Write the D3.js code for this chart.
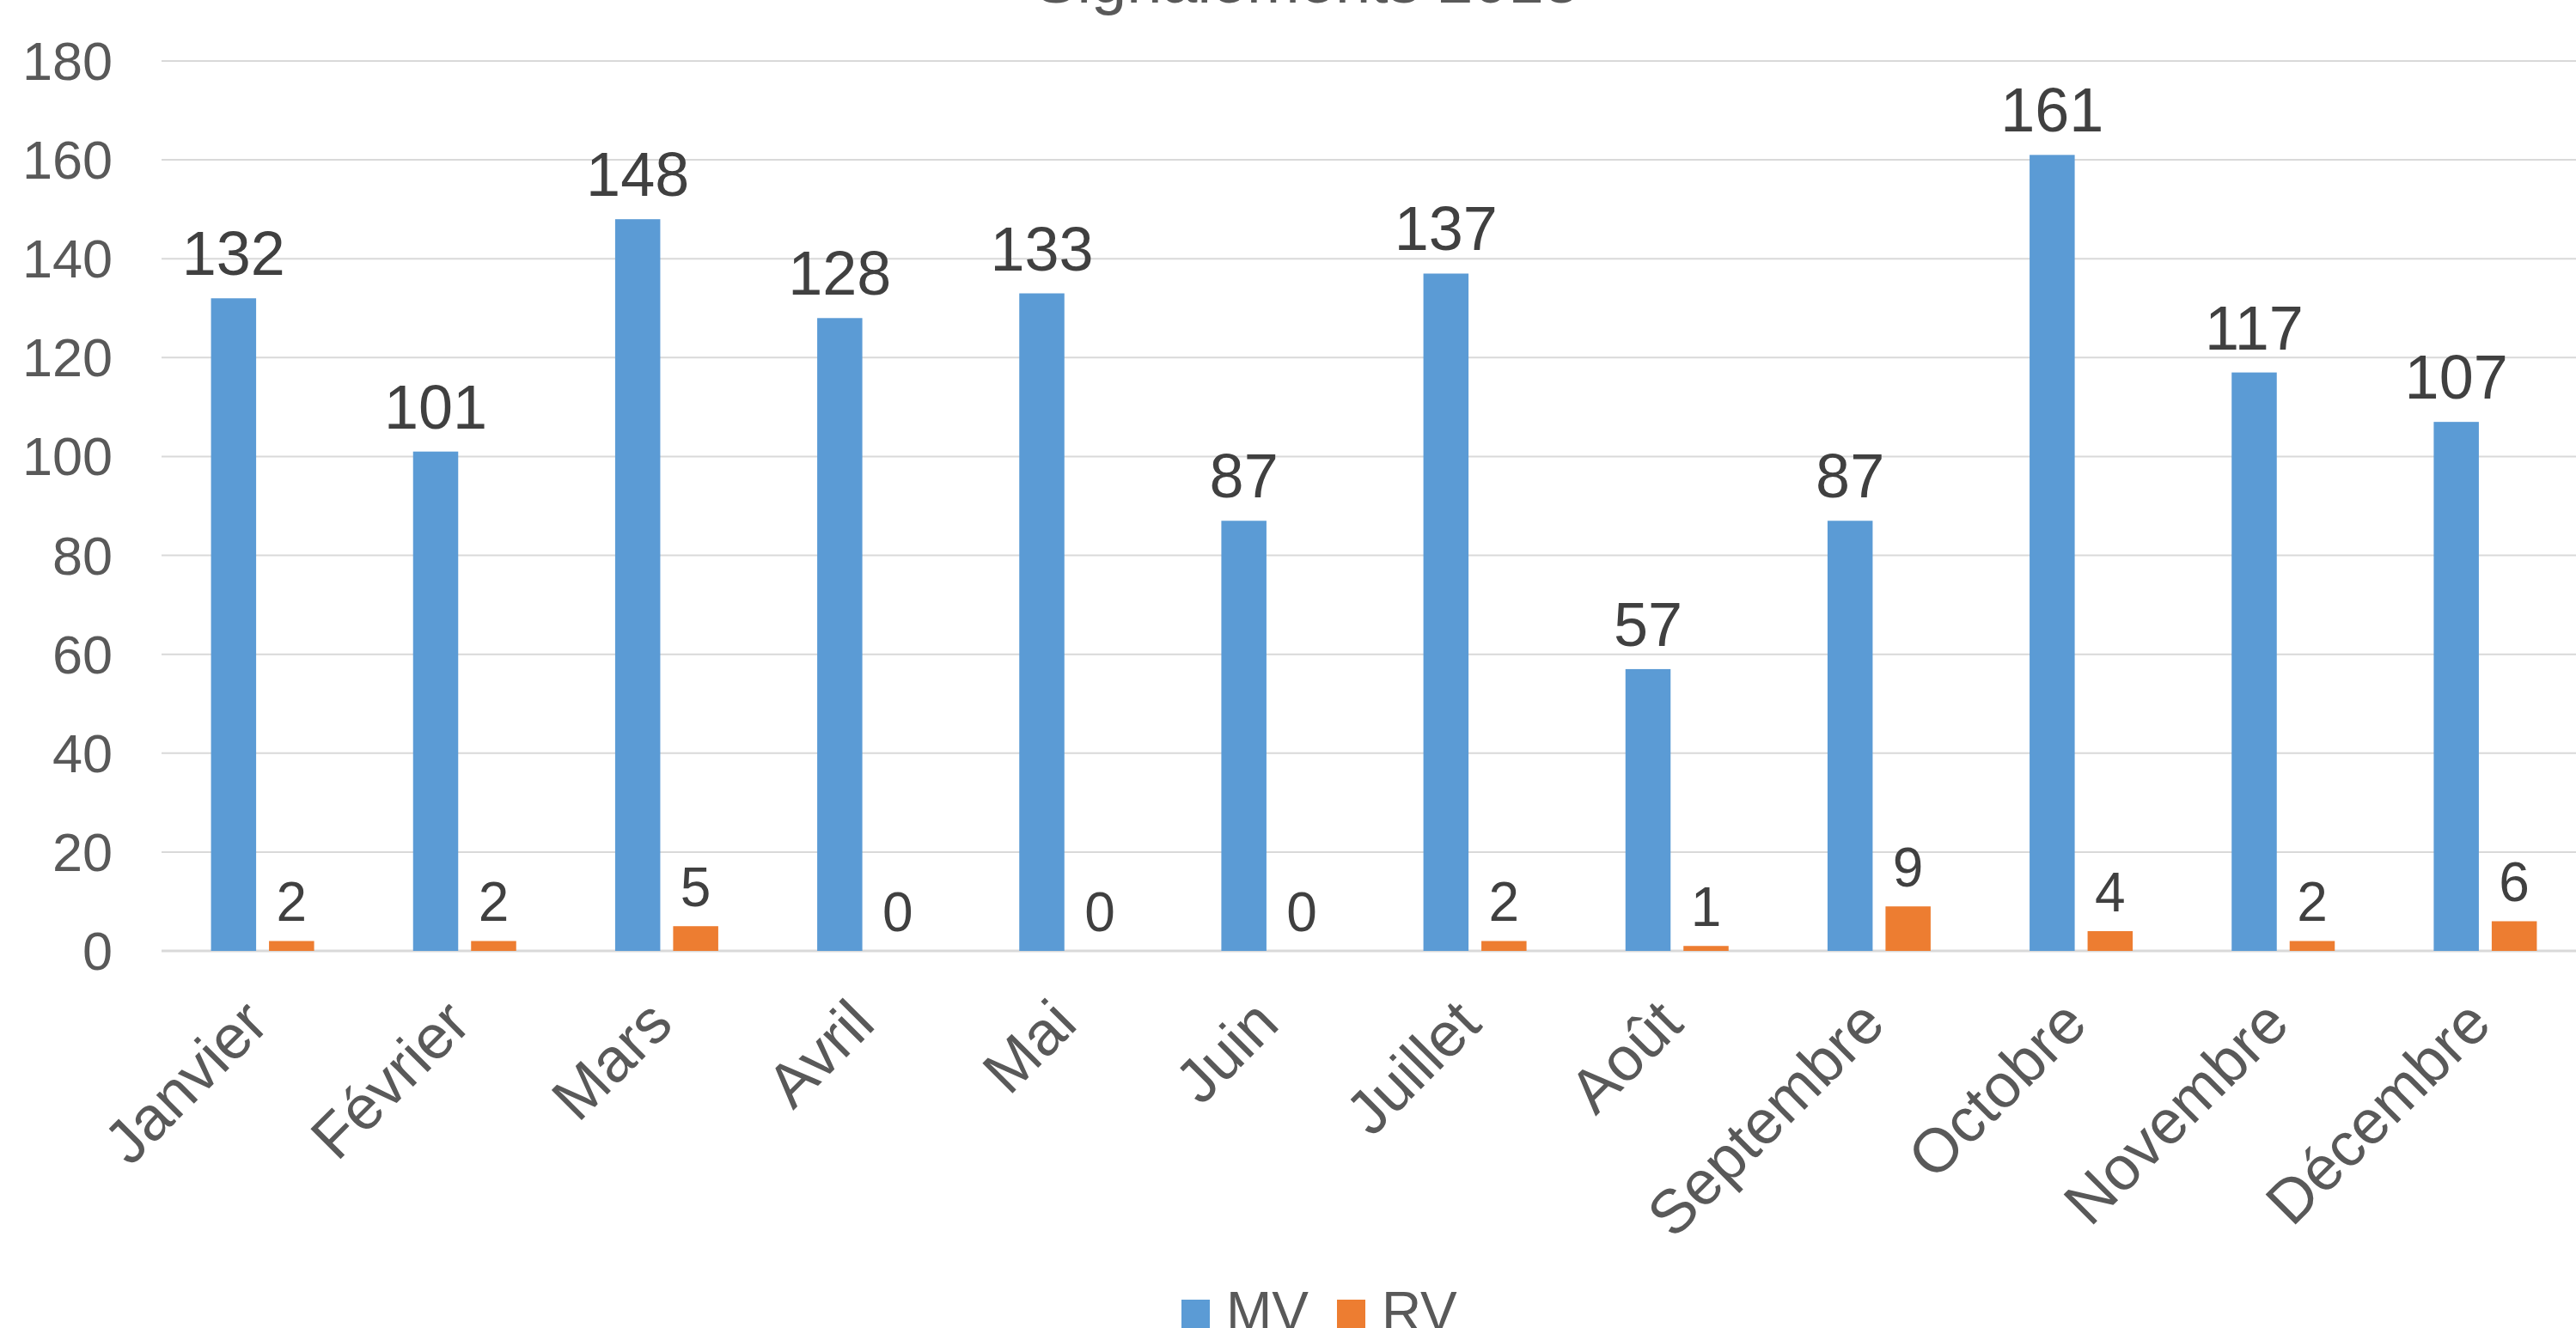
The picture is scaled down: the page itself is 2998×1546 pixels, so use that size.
<!DOCTYPE html>
<html>
<head>
<meta charset="utf-8">
<script src="https://cdn.jsdelivr.net/npm/d3@7"></script>
<style>
  body { margin: 0; background: #fff; overflow: hidden; }
  svg { display: block; font-family: "Liberation Sans", Arial, sans-serif; }
</style>
</head>
<body>
<svg id="chart" width="2998" height="1546"></svg>
<script>
// Chart data
const months = ['Janvier', 'Février', 'Mars', 'Avril', 'Mai', 'Juin', 'Juillet', 'Août', 'Septembre', 'Octobre', 'Novembre', 'Décembre']
const mvValues = [132, 101, 148, 128, 133, 87, 137, 57, 87, 161, 117, 107]
const rvValues = [2, 2, 5, 0, 0, 0, 2, 1, 9, 4, 2, 6]
const seriesNames = ['MV', 'RV']
const yTicks = [0, 20, 40, 60, 80, 100, 120, 140, 160, 180]
const title = 'Signalements 2018'

const colors = {MV: '#5B9BD5', RV: '#ED7D31'}

const svg = d3.select('#chart')

// plot area (the right side runs past the picture edge, as in the original)
const plotLeft = 188, plotRight = 3010, plotTop = 71, plotBottom = 1107

const x = d3.scaleBand().domain(months).range([plotLeft, plotRight]).padding(0)
const groupW = 120
const xs = d3.scaleBand().domain(seriesNames).range([0, groupW]).paddingInner(0.222)
const y = d3.scaleLinear().domain([0, 180]).range([plotBottom, plotTop])

// Gridlines
svg.append('g').selectAll('line').data(yTicks).enter().append('line')
  .attr('x1', plotLeft).attr('x2', 2998)
  .attr('y1', d => y(d)).attr('y2', d => y(d))
  .attr('stroke', '#D9D9D9').attr('stroke-width', d => d === 0 ? 3 : 2)

// Y axis labels
svg.append('g').selectAll('text').data(yTicks).enter().append('text')
  .attr('x', 131).attr('y', d => y(d)).attr('dy', '0.35em')
  .attr('text-anchor', 'end').attr('font-size', 63).attr('fill', '#595959')
  .text(d => d)

const rows = months.map((m, i) => ({month: m, MV: mvValues[i], RV: rvValues[i]}))
const offset = (x.bandwidth() - groupW) / 2

// Bars + value labels
seriesNames.forEach(s => {
  const g = svg.append('g')
  g.selectAll('rect').data(rows).enter().append('rect')
    .attr('x', d => x(d.month) + offset + xs(s))
    .attr('width', xs.bandwidth())
    .attr('y', d => y(d[s]))
    .attr('height', d => plotBottom - y(d[s]))
    .attr('fill', colors[s])

  g.selectAll('text').data(rows).enter().append('text')
    .attr('x', d => x(d.month) + offset + xs(s) + xs.bandwidth() / 2)
    .attr('y', d => y(d[s]) - (s === 'MV' ? 27 : 23))
    .attr('text-anchor', 'middle')
    .attr('font-size', s === 'MV' ? 72 : 64)
    .attr('fill', '#404040')
    .text(d => d[s])
})

// X axis labels, rotated
svg.append('g').selectAll('text').data(months).enter().append('text')
  .attr('transform', d => `translate(${x(d) + x.bandwidth() / 2 + 10}, ${plotBottom + 88}) rotate(-45)`)
  .attr('text-anchor', 'end').attr('font-size', 72).attr('fill', '#595959')
  .text(d => d)

// Title (clipped at the top)
svg.append('text').attr('x', 1521).attr('y', 3)
  .attr('text-anchor', 'middle').attr('font-size', 74).attr('fill', '#595959')
  .text(title)

// Legend
const legendPos = [{name: 'MV', sx: 1375, tx: 1427}, {name: 'RV', sx: 1556, tx: 1608}]
const lg = svg.append('g')
lg.selectAll('rect').data(legendPos).enter().append('rect')
  .attr('x', d => d.sx).attr('y', 1513).attr('width', 33).attr('height', 40)
  .attr('fill', d => colors[d.name])
lg.selectAll('text').data(legendPos).enter().append('text')
  .attr('x', d => d.tx).attr('y', 1549)
  .attr('font-size', 64).attr('fill', '#595959')
  .text(d => d.name)
</script>
</body>
</html>
